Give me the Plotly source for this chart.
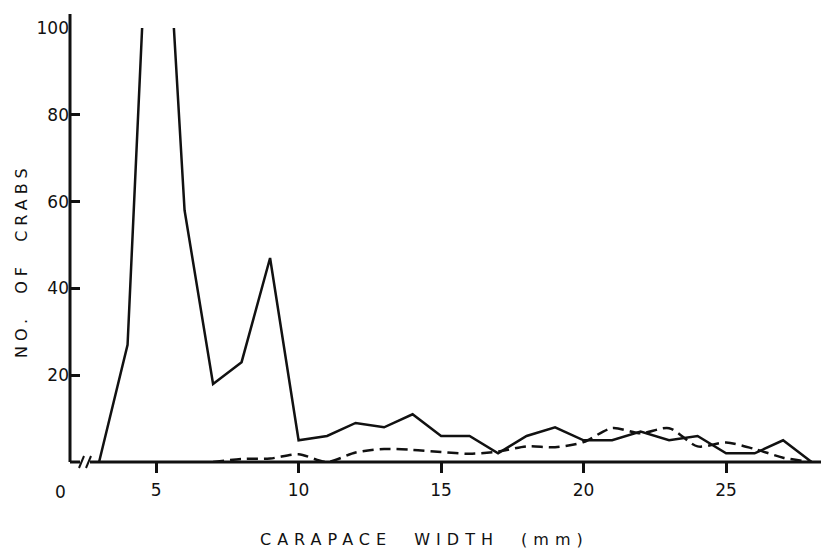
import plotly.graph_objects as go

# ---- data ----
widths_all = [3, 4, 5, 6, 7, 8, 9, 10, 11, 12, 13, 14, 15, 16, 17, 18, 19, 20,
              21, 22, 23, 24, 25, 26, 27, 28]
crabs_solid = [0, 27, 170, 58, 18, 23, 47, 5, 6, 9, 8, 11, 6, 6, 2, 6, 8, 5,
               5, 7, 5, 6, 2, 2, 5, 0]

widths_dash = [7, 8, 9, 10, 11, 12, 13, 14, 15, 16, 17, 18, 19, 20, 21, 22,
               23, 24, 25, 26, 27, 28]
crabs_dash = [0, 0.7, 0.8, 1.8, 0, 2.2, 3.0, 2.8, 2.3, 1.9, 2.4, 3.6, 3.4,
              4.6, 7.8, 6.6, 7.8, 3.6, 4.5, 3.0, 1.0, 0]

x_ticks = [5, 10, 15, 20, 25]
y_ticks = [20, 40, 60, 80, 100]

FONT = "DejaVu Sans"
INK = "#111111"

fig = go.Figure()
fig.add_trace(go.Scatter(x=widths_all, y=crabs_solid, mode="lines",
                         line=dict(color=INK, width=2.5), showlegend=False))
fig.add_trace(go.Scatter(x=widths_dash, y=crabs_dash, mode="lines",
                         line=dict(color=INK, width=2.5, dash="11px,6px",
                                   shape="spline", smoothing=0.8),
                         showlegend=False))

L, T, B = 70, 28, 87
W, H = 821, 549
pw = W - L
ph = H - T - B


def px(p):
    return (p - L) / pw


def py(q):
    return (H - B - q) / ph


shapes = [
    # y axis line, extending a little above the top tick
    dict(type="line", xref="paper", yref="paper", x0=0, x1=0, y0=0, y1=py(14),
         line=dict(color=INK, width=3)),
    # baseline with break
    dict(type="line", xref="paper", yref="paper", x0=0, x1=px(80), y0=0, y1=0,
         line=dict(color=INK, width=3)),
    dict(type="line", xref="paper", yref="paper", x0=px(90), x1=1, y0=0, y1=0,
         line=dict(color=INK, width=3)),
    dict(type="line", xref="paper", yref="paper", x0=px(79), x1=px(84),
         y0=py(468), y1=py(456), line=dict(color=INK, width=2)),
    dict(type="line", xref="paper", yref="paper", x0=px(86), x1=px(91),
         y0=py(468), y1=py(456), line=dict(color=INK, width=2)),
]

annotations = [
    dict(text="0", xref="paper", yref="paper", x=px(60), y=py(492),
         showarrow=False, font=dict(family=FONT, size=17, color=INK),
         xanchor="center", yanchor="middle"),
    dict(text="<span style='letter-spacing:6px'>CARAPACE&nbsp; WIDTH&nbsp; (mm)</span>",
         xref="paper", yref="paper", x=px(424), y=py(539), showarrow=False,
         font=dict(family=FONT, size=16, color=INK),
         xanchor="center", yanchor="middle"),
    dict(text="<span style='letter-spacing:5px'>NO.&nbsp; OF&nbsp; CRABS</span>",
         xref="paper", yref="paper", x=px(21), y=py(261), showarrow=False,
         textangle=-90, font=dict(family=FONT, size=16, color=INK),
         xanchor="center", yanchor="middle"),
]

fig.update_layout(
    width=W, height=H,
    margin=dict(l=L, r=0, t=T, b=B, pad=0),
    paper_bgcolor="white", plot_bgcolor="white",
    font=dict(family=FONT, size=17, color=INK),
    shapes=shapes, annotations=annotations,
    xaxis=dict(range=[1.98, 28.33], tickvals=x_ticks, ticktext=[str(v) for v in x_ticks],
               ticks="outside", ticklen=10, tickwidth=2.5, tickcolor=INK,
               showline=False, showgrid=False, zeroline=False,
               tickfont=dict(family=FONT, size=17, color=INK), ticklabelstandoff=3),
    yaxis=dict(range=[0, 100], tickvals=y_ticks, ticktext=[str(v) for v in y_ticks],
               ticks="inside", ticklen=10, tickwidth=2.5, tickcolor=INK,
               showline=False, showgrid=False, zeroline=False,
               tickfont=dict(family=FONT, size=17, color=INK)),
)

fig.write_html("out.html")
